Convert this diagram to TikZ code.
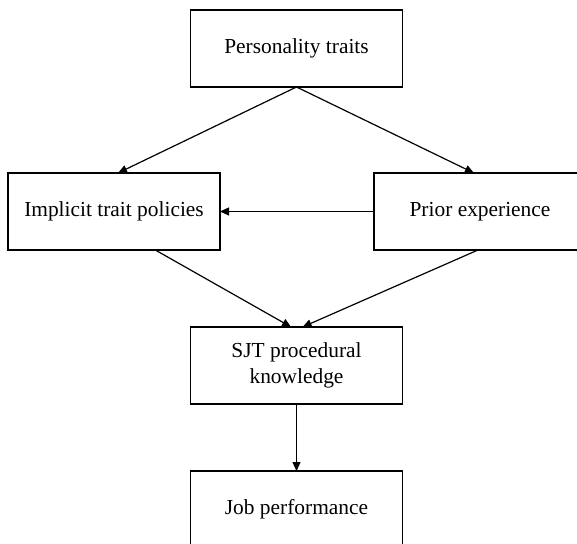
\documentclass[tikz,border=0pt]{standalone}
\usepackage{fontspec}
\setmainfont{Liberation Serif}
\usepackage{tikz}
\usetikzlibrary{arrows.meta}

\begin{document}
\begin{tikzpicture}[x=0.5pt,y=-0.5pt,
    factor/.style={draw,line width=0.75pt,inner sep=0pt,outer sep=0pt,
      minimum width=106pt,minimum height=38.5pt,align=center,
      font=\fontsize{10.7}{12.7}\selectfont},
    >={Triangle[length=4.5pt,width=4pt]},
    every path/.style={line width=0.6pt}]
  \useasboundingbox (0,0) rectangle (577,544);
  \node (traits)   at (296.5,48.5)  [factor] {Personality traits};
  \node (implicit) at (114,211.5)   [factor] {Implicit trait policies};
  \node (prior)    at (480,211.5)   [factor] {Prior experience};
  \node (sjt)      at (296.5,365.5) [factor] {SJT procedural\\knowledge};
  \node (job)      at (296.5,509.5) [factor] {Job performance};
  \draw[->] (node cs:name=traits,anchor=south) -- (node cs:name=implicit,angle=84);
  \draw[->] (node cs:name=traits,anchor=south) -- (node cs:name=prior,angle=99);
  \draw[->] (node cs:name=prior,anchor=west) -- (node cs:name=implicit,anchor=east);
  \draw[->] (node cs:name=implicit,angle=-43) -- (node cs:name=sjt,angle=98);
  \draw[->] (node cs:name=prior,angle=-93) -- (node cs:name=sjt,angle=81);
  \draw[->] (node cs:name=sjt,anchor=south) -- (node cs:name=job,anchor=north);
\end{tikzpicture}
\end{document}
